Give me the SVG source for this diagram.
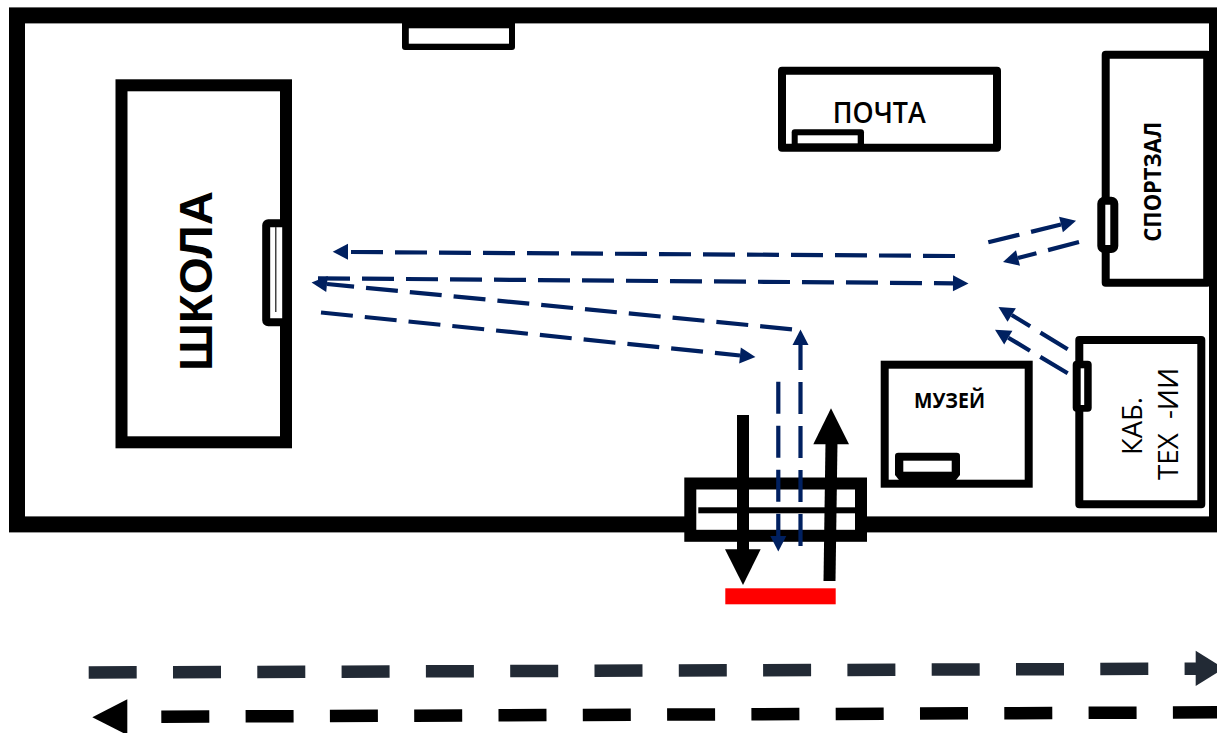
<svg xmlns="http://www.w3.org/2000/svg" width="1217" height="733" viewBox="0 0 1217 733">
<style>
.w8{fill:#fff;stroke:#000;stroke-width:8;stroke-linejoin:round}
.m12{fill:#fff;stroke:#000;stroke-width:12;stroke-linejoin:miter}
.b{fill:none;stroke:#002060;stroke-width:4.2;stroke-dasharray:32 12}
.ah{marker-end:url(#blue)}
.os{font-family:"Open Sans","Noto Sans",sans-serif;fill:#000}
</style>
<defs>
<marker id="blue" markerUnits="userSpaceOnUse" markerWidth="18" markerHeight="18" refX="0" refY="8" orient="auto" overflow="visible"><polygon points="0,0 15.5,8 0,16" fill="#002060"/></marker>
</defs>
<rect width="1217" height="733" fill="#fff"/>
<g id="walls"><rect x="17" y="15.4" width="1200" height="509" fill="#fff" stroke="#000" stroke-width="16"/>
<rect x="402" y="20" width="113" height="30" rx="3" fill="#000"/><rect x="408.8" y="28.3" width="100.2" height="15.4" fill="#fff"/></g>
<g id="school"><rect class="m12" x="121.5" y="85.3" width="164.5" height="357"/>
<rect class="w8" x="266.2" y="223.3" width="20" height="99" rx="2"/><rect x="275" y="227" width="1.5" height="85" fill="#444"/>
<text transform="translate(212,371) rotate(-90)" style="font-family:'Liberation Sans',sans-serif" font-size="47" font-weight="700" textLength="180" lengthAdjust="spacingAndGlyphs">ШКОЛА</text></g>
<g id="post"><rect class="w8" x="782" y="70.7" width="215" height="77"/>
<path d="M791.7 147V132.3Q791.7 129.3 794.7 129.3H861Q864 129.3 864 132.3V147Z" fill="#000"/><rect x="797.7" y="135.3" width="60" height="8" fill="#fff"/>
<text class="os" x="832.7" y="123.3" font-size="28" font-weight="600" textLength="93" lengthAdjust="spacingAndGlyphs">ПОЧТА</text></g>
<g id="gym"><rect class="w8" x="1105.7" y="54.7" width="101.5" height="228"/>
<rect x="1101.3" y="200.7" width="13" height="48.3" rx="3" fill="#fff" stroke="#000" stroke-width="8"/>
<text class="os" transform="translate(1161,241.7) rotate(-90)" font-size="23" font-weight="700" textLength="120" lengthAdjust="spacingAndGlyphs">СПОРТЗАЛ</text></g>
<g id="lab"><rect class="w8" x="1079.3" y="340" width="122" height="164.3"/>
<rect x="1072.7" y="360.7" width="19" height="51" rx="4" fill="#000"/><rect x="1080.7" y="368.3" width="3.5" height="36.7" fill="#fff"/>
<text class="os" transform="translate(1141.7,455) rotate(-90)" font-size="28" textLength="58" lengthAdjust="spacingAndGlyphs">КАБ.</text>
<text class="os" transform="translate(1178.3,480) rotate(-90)" font-size="28" word-spacing="7" textLength="112" lengthAdjust="spacingAndGlyphs">ТЕХ -ИИ</text></g>
<g id="museum"><rect x="884.7" y="364.7" width="144" height="119" fill="#fff" stroke="#000" stroke-width="8"/>
<path d="M899 480L895 475V456Q895 452.7 898.3 452.7H956.7Q960 452.7 960 456V475L956 480Z" fill="#000"/><rect x="903.3" y="460.7" width="48.4" height="11" fill="#fff"/>
<text class="os" x="914" y="408.3" font-size="22" font-weight="700" textLength="71" lengthAdjust="spacingAndGlyphs">МУЗЕЙ</text></g>
<g id="gate"><rect class="m12" x="690.3" y="483.5" width="170.7" height="52.3"/>
<rect x="698.3" y="507.3" width="157" height="6" fill="#000"/></g>
<rect id="red-bar" x="725.3" y="588.3" width="110.4" height="16" fill="#f00"/>
<g id="connectors">
<path d="M743 415V552" stroke="#000" stroke-width="12" fill="none"/><polygon points="725,549.3 760.7,549.3 743,585" fill="#000"/>
<path d="M829.5 581L831.5 442" stroke="#000" stroke-width="12" fill="none"/><polygon points="813.3,444.3 849,444.3 831,408.3" fill="#000"/>
<path class="b" d="M351 252L955 256"/><polygon points="348,243.7 348,259.7 332.7,251.7" fill="#002060"/>
<path class="b ah" d="M318 278.3L953 283.3"/>
<path class="b ah" d="M792 329.3L327 284"/>
<path class="b ah" d="M321 312.5L740 355.5"/>
<path class="b ah" d="M800.5 546V345"/>
<path class="b ah" d="M778.3 381.7V536"/>
<path class="b ah" d="M988.3 242.3L1061 224.5"/>
<path class="b ah" d="M1079 242L1018 258"/>
<path class="b ah" d="M1067.7 349.3L1011.7 315"/>
<path class="b ah" d="M1067.7 373.3L1008.3 337.7"/>
<path d="M88.7 672.5L1196 668.7" fill="none" stroke="#222a35" stroke-width="12.5" stroke-dasharray="48 36.3"/><polygon points="1195.7,650.7 1224,668.5 1195.7,686" fill="#222a35"/>
<path d="M161.3 716.7L1219 712.3" fill="none" stroke="#000" stroke-width="12.5" stroke-dasharray="48 36.3"/><polygon points="127.3,699.3 92.3,717.3 127.3,735" fill="#000"/>
</g>
</svg>
